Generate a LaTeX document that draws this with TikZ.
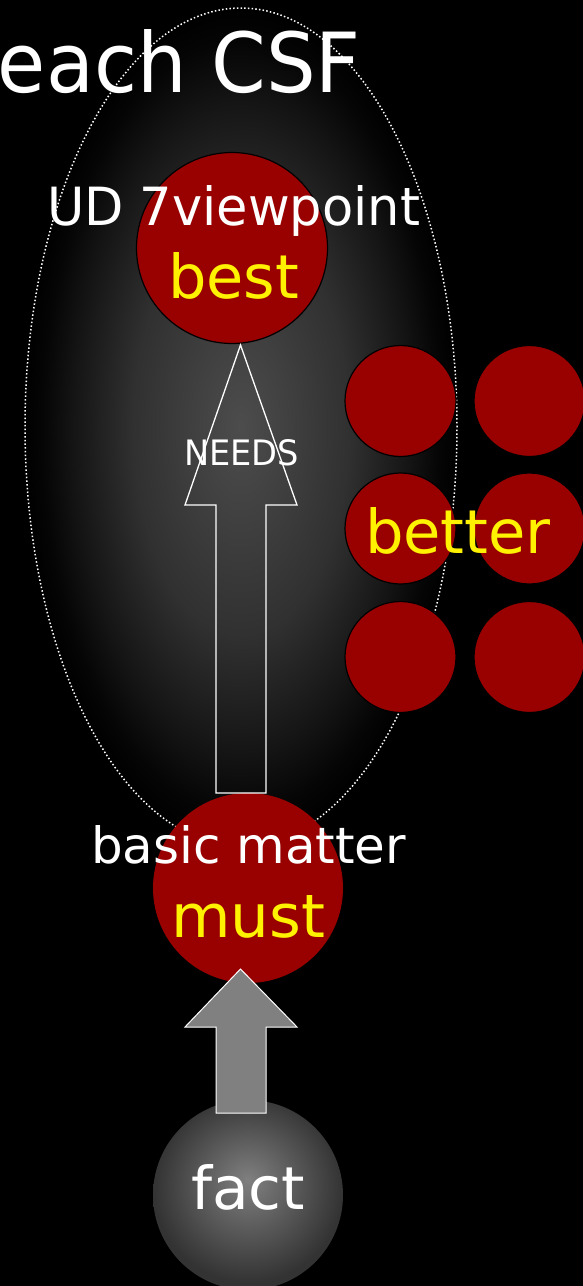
\documentclass[tikz,border=0pt]{standalone}
\usepackage{graphicx}
\usepackage{fontspec}
\setmainfont{DejaVu Sans}
\usetikzlibrary{shapes.geometric}
\definecolor{darkred}{RGB}{153,0,0}
\definecolor{glowa}{gray}{0.30}
\definecolor{glowb}{gray}{0.19}
\definecolor{glowc}{gray}{0.08}
\definecolor{glowd}{gray}{0.02}
\definecolor{factin}{gray}{0.50}
\definecolor{factout}{gray}{0.20}
\definecolor{arrowgray}{gray}{0.5}
\pgfdeclareradialshading{ellglow}{\pgfpoint{0bp}{0bp}}{color(0bp)=(glowa); color(12.5bp)=(glowb); color(19.5bp)=(glowc); color(23bp)=(glowd); color(25bp)=(black); color(50bp)=(black)}
\pgfdeclareradialshading{factglow}{\pgfpoint{0bp}{4bp}}{color(0bp)=(factin); color(25bp)=(factout); color(50bp)=(factout)}
\tikzset{
  lbl/.style={anchor=base west, inner sep=0pt, outer sep=0pt, text=white},
  ylbl/.style={lbl, text=yellow},
  redc/.style={circle, fill=darkred, draw=black, line width=1.2pt, inner sep=0pt},
  outarrow/.style={draw=white, line width=1.3pt, line join=miter},
  grayarrow/.style={draw=white, fill=arrowgray, line width=1pt, line join=miter}
}
\newcommand{\fitbox}[3]{\resizebox{#1}{#2}{\fontsize{40}{48}\selectfont #3}}
\begin{document}
\begin{tikzpicture}[x=1pt,y=-1pt]
\fill[black] (0,0) rectangle (583,1286);
\useasboundingbox (0,0) rectangle (583,1286);
% big shaded ellipse
\node[ellipse, shade, shading=ellglow, draw=white, dash pattern=on 1.5pt off 2.2pt, line width=1.5pt,
      minimum width=432pt, minimum height=838pt, inner sep=0pt] (area) at (241,427) {};
% title
\node[lbl] (title) at (-2,92) {\fitbox{363pt}{63pt}{each CSF}};
% best circle
\node[redc, minimum size=191pt] (best) at (232,248) {};
% better circles
\node[redc, minimum size=111pt] (b11) at (400.5,401) {};
\node[redc, minimum size=111pt] (b21) at (400.5,528.5) {};
\node[redc, minimum size=111pt] (b31) at (400.5,657) {};
\node[redc, minimum size=111pt] (b12) at (529.5,401) {};
\node[redc, minimum size=111pt] (b22) at (529.5,528.5) {};
\node[redc, minimum size=111pt] (b32) at (529.5,657) {};
% must circle
\node[circle, fill=darkred, inner sep=0pt, minimum size=190pt] (must) at (248,888) {};
% fact circle
\node[circle, shade, shading=factglow, inner sep=0pt, minimum size=190pt] (fact) at (248,1195) {};
% NEEDS outline arrow
\coordinate (needsTip) at (240.5,345);
\draw[outarrow] (needsTip) -- ++(56.5,160) -- ++(-31,0) -- ++(0,288) -- ++(-50,0) -- ++(0,-288) -- ++(-31,0) -- cycle;
% gray arrow
\coordinate (factTip) at (240.5,969);
\draw[grayarrow] (factTip) -- ++(56.5,58) -- ++(-31,0) -- ++(0,86) -- ++(-50,0) -- ++(0,-86) -- ++(-31,0) -- cycle;
% labels
\node[lbl] (ud) at (47,225) {\fitbox{373pt}{40pt}{UD 7viewpoint}};
\node[ylbl] (bestl) at (168,298) {\fitbox{131pt}{46pt}{best}};
\node[lbl] (needs) at (184,465) {\fitbox{115pt}{26pt}{NEEDS}};
\node[ylbl] (better) at (365,553) {\fitbox{186pt}{46pt}{better}};
\node[lbl] (basic) at (91,863) {\fitbox{315pt}{38pt}{basic matter}};
\node[ylbl] (mustl) at (171,937) {\fitbox{154pt}{42pt}{must}};
\node[lbl] (factl) at (191,1209) {\fitbox{114pt}{45pt}{fact}};
\end{tikzpicture}
\end{document}
